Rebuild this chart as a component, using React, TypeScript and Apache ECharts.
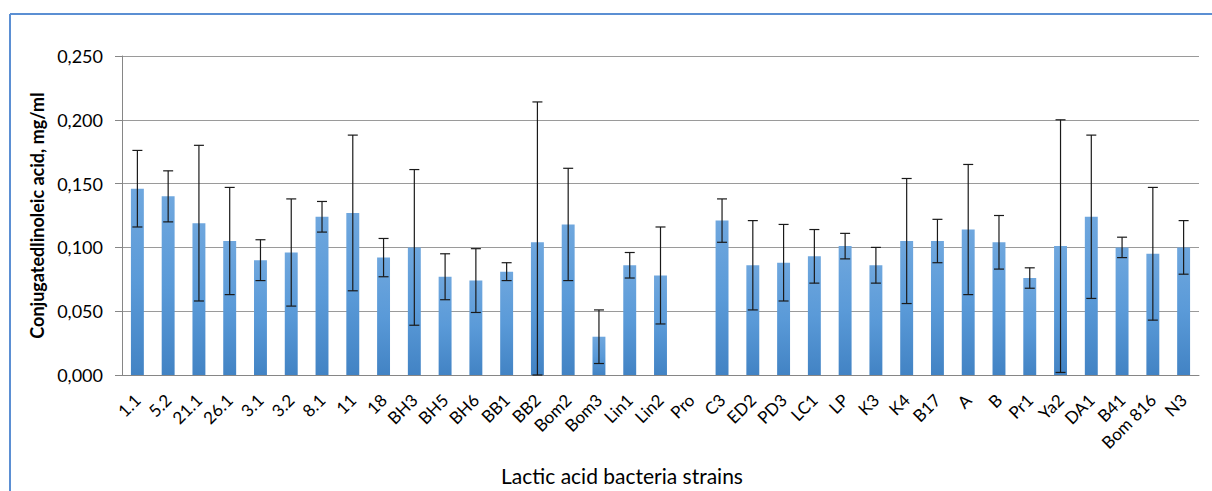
import React, { useEffect, useRef } from "react";
import * as echarts from "echarts";

const categories = ["1.1","5.2","21.1","26.1","3.1","3.2","8.1","11","18","BH3","BH5","BH6","BB1","BB2","Bom2","Bom3","Lin1","Lin2","Pro","C3","ED2","PD3","LC1","LP","K3","K4","B17","A","B","Pr1","Ya2","DA1","B41","Bom 816","N3"];
const values = [0.146,0.140,0.119,0.105,0.090,0.096,0.124,0.127,0.092,0.100,0.077,0.074,0.081,0.104,0.118,0.030,0.086,0.078,0,0.121,0.086,0.088,0.093,0.101,0.086,0.105,0.105,0.114,0.104,0.076,0.101,0.124,0.100,0.095,0.100];
const errors = [0.030,0.020,0.061,0.042,0.016,0.042,0.012,0.061,0.015,0.061,0.018,0.025,0.007,0.110,0.044,0.021,0.010,0.038,0,0.017,0.035,0.030,0.021,0.010,0.014,0.049,0.017,0.051,0.021,0.008,0.099,0.064,0.008,0.052,0.021];
const yTicks = [0, 0.05, 0.1, 0.15, 0.2, 0.25];

const FONT = "Lato";

export default function App() {
  const ref = useRef<HTMLDivElement>(null);
  useEffect(() => {
    document.body.style.margin = "0";
    const chart = echarts.init(ref.current!, null, { renderer: "svg" });
    const errData = categories.map((c, i) => [i, Math.max(0, values[i] - errors[i]), values[i] + errors[i], errors[i]]);
    chart.setOption({
      animation: false,
      backgroundColor: "#ffffff",
      grid: { left: 122, right: 13, top: 56, bottom: 116 },
      graphic: [
        { type: "line", shape: { x1: 10, y1: 14, x2: 1212, y2: 14 }, style: { stroke: "#5b8fd3", lineWidth: 2 } },
        { type: "line", shape: { x1: 10, y1: 14, x2: 10, y2: 491 }, style: { stroke: "#5b8fd3", lineWidth: 2 } },
        { type: "text", x: 622, y: 475, style: { text: "Lactic acid bacteria strains", fontFamily: FONT, fontSize: 21, fill: "#000", textAlign: "center", textVerticalAlign: "middle" } },
      ],
      xAxis: {
        type: "category",
        data: categories,
        axisLine: { lineStyle: { color: "#868686", width: 1 } },
        axisTick: { show: false },
        axisLabel: { rotate: 45, interval: 0, fontFamily: FONT, fontSize: 17, color: "#000", margin: 22 },
      },
      yAxis: {
        type: "value",
        min: yTicks[0],
        max: yTicks[yTicks.length - 1],
        interval: 0.05,
        name: "Conjugatedlinoleic acid, mg/ml",
        nameLocation: "middle",
        nameRotate: 90,
        nameGap: 73,
        nameTextStyle: { fontFamily: FONT, fontSize: 18, fontWeight: "bold", color: "#000" },
        axisLine: { show: true, lineStyle: { color: "#868686" } },
        axisTick: { show: true, length: 7, lineStyle: { color: "#868686" } },
        splitLine: { lineStyle: { color: "#9a9a9a", width: 1 } },
        axisLabel: {
          fontFamily: FONT, fontSize: 18, color: "#000", margin: 19,
          formatter: (v: number) => v.toFixed(3).replace(".", ","),
        },
      },
      series: [
        {
          type: "bar",
          data: values,
          barWidth: "42%",
          itemStyle: {
            color: new echarts.graphic.LinearGradient(0, 0, 0, 1, [
              { offset: 0, color: "#6fa7de" },
              { offset: 0.5, color: "#5a9ad8" },
              { offset: 1, color: "#4283c4" },
            ]),
          },
        },
        {
          type: "custom",
          data: errData,
          z: 10,
          renderItem: (params: any, api: any) => {
            if (api.value(3) === 0) return null;
            const x = api.coord([api.value(0), 0])[0];
            const lo = api.coord([api.value(0), api.value(1)])[1];
            const hi = api.coord([api.value(0), api.value(2)])[1];
            const hw = 5;
            const style = { stroke: "#1a1a1a", lineWidth: 1.2 };
            return {
              type: "group",
              children: [
                { type: "line", shape: { x1: x, y1: hi, x2: x, y2: lo }, style },
                { type: "line", shape: { x1: x - hw, y1: hi, x2: x + hw, y2: hi }, style },
                { type: "line", shape: { x1: x - hw, y1: lo, x2: x + hw, y2: lo }, style },
              ],
            };
          },
        },
      ],
    });
    return () => chart.dispose();
  }, []);
  return <div ref={ref} style={{ width: 1212, height: 491 }} />;
}
